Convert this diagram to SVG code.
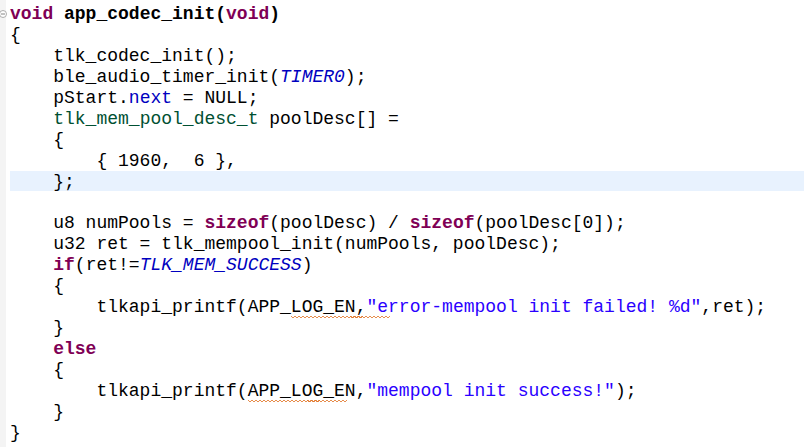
<svg xmlns="http://www.w3.org/2000/svg" width="804" height="447" viewBox="0 0 804 447">
<style>
text{font-family:"Liberation Mono","Courier New",monospace;font-size:18px;fill:#000;white-space:pre}
.k{fill:#7f0055;font-weight:bold}
.c{fill:#0000c0;font-style:italic}
.f{fill:#0000c0}
.s{fill:#2a00ff}
.t{fill:#005032}
.sq{fill:none;stroke:#e07020;stroke-width:0.8}
</style>
<rect width="804" height="447" fill="#fff"/>
<rect x="0" y="0" width="6" height="447" fill="#f4f4f4"/>
<rect x="10" y="171" width="794" height="20" fill="#e8f2fe"/>
<circle cx="3" cy="14" r="3.5" fill="#fff" stroke="#999" stroke-width="0.8"/>
<line x1="1" y1="14" x2="5" y2="14" stroke="#666" stroke-width="0.8"/>
<g id="code">
<text x="10" y="19"><tspan class="k">void</tspan><tspan font-weight="bold"> app_codec_init(</tspan><tspan class="k">void</tspan><tspan font-weight="bold">)</tspan></text>
<text x="10" y="40">{</text>
<text x="10" y="61">    tlk_codec_init();</text>
<text x="10" y="82">    ble_audio_timer_init(<tspan class="c">TIMER0</tspan>);</text>
<text x="10" y="103">    pStart.<tspan class="f">next</tspan> = NULL;</text>
<text x="10" y="124">    <tspan class="t">tlk_mem_pool_desc_t</tspan> poolDesc[] =</text>
<text x="10" y="145">    {</text>
<text x="10" y="166">        { 1960,  6 },</text>
<text x="10" y="187">    };</text>
<text x="10" y="228">    u8 numPools = <tspan class="k">sizeof</tspan>(poolDesc) / <tspan class="k">sizeof</tspan>(poolDesc[0]);</text>
<text x="10" y="249">    u32 ret = tlk_mempool_init(numPools, poolDesc);</text>
<text x="10" y="270">    <tspan class="k">if</tspan>(ret!=<tspan class="c">TLK_MEM_SUCCESS</tspan>)</text>
<text x="10" y="291">    {</text>
<text x="10" y="312">        tlkapi_printf(APP_LOG_EN,<tspan class="s">"error-mempool init failed! %d"</tspan>,ret);</text>
<text x="10" y="333">    }</text>
<text x="10" y="354">    <tspan class="k">else</tspan></text>
<text x="10" y="375">    {</text>
<text x="10" y="396">        tlkapi_printf(APP_LOG_EN,<tspan class="s">"mempool init success!"</tspan>);</text>
<text x="10" y="417">    }</text>
<text x="10" y="438">}</text>
</g>
<g id="squiggles">
<path class="sq" d="M291 316 l2 2 l2 -2 l2 2 l2 -2 l2 2 l2 -2 l2 2 l2 -2 l2 2 l2 -2 l2 2 l2 -2 l2 2 l2 -2 l2 2 l2 -2 l2 2 l2 -2 l2 2 l2 -2 l2 2 l2 -2 l2 2 l2 -2 l2 2 l2 -2 l2 2 l2 -2 l2 2 l2 -2 l2 2 l2 -2 l2 2 l2 -2 l2 2 l2 -2"/>
<path class="sq" d="M350 316 l2 2 l2 -2 l2 2 l2 -2 l2 2 l2 -2 l2 2 l2 -2 l2 2 l2 -2 l2 2 l2 -2 l2 2 l2 -2 l2 2 l2 -2 l2 2 l2 -2 l2 2 l2 -2"/>
<path class="sq" d="M248 400 l2 2 l2 -2 l2 2 l2 -2 l2 2 l2 -2 l2 2 l2 -2 l2 2 l2 -2 l2 2 l2 -2 l2 2 l2 -2 l2 2 l2 -2 l2 2 l2 -2 l2 2 l2 -2 l2 2 l2 -2 l2 2 l2 -2 l2 2 l2 -2 l2 2 l2 -2 l2 2 l2 -2 l2 2 l2 -2 l2 2 l2 -2 l2 2 l2 -2"/>
<path class="sq" d="M307 400 l2 2 l2 -2 l2 2 l2 -2 l2 2 l2 -2 l2 2 l2 -2 l2 2 l2 -2 l2 2 l2 -2 l2 2 l2 -2 l2 2 l2 -2 l2 2 l2 -2 l2 2 l2 -2"/>
</g>
</svg>
